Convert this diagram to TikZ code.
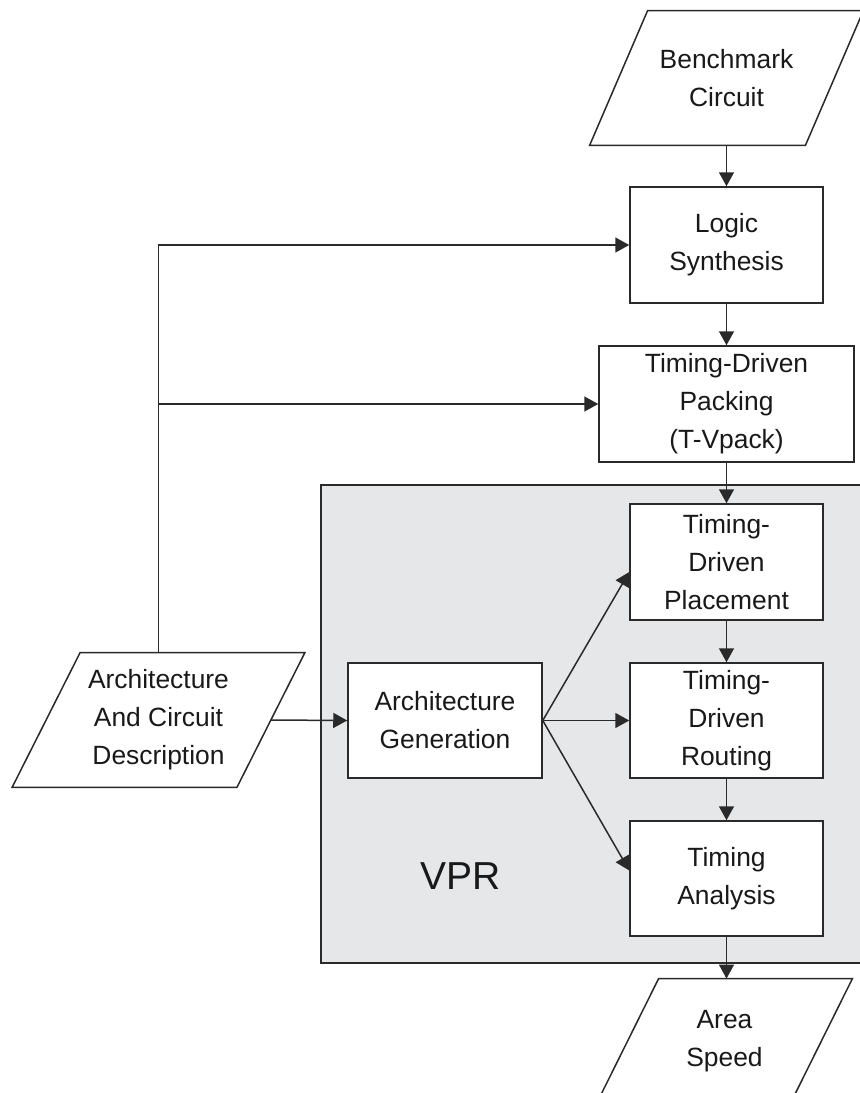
\documentclass[tikz,border=0pt]{standalone}
\usepackage{fontspec}
\setmainfont{Liberation Sans}
\usetikzlibrary{arrows.meta,calc}
\definecolor{vprgray}{HTML}{E6E7E9}
\definecolor{edgegray}{HTML}{2A2A2A}

% slanted input/output frame round a node: name, half slant
\newcommand{\ioframe}[2]{%
  \draw[draw=edgegray, line width=0.75pt]
    ($(#1.north west)+(#2,0)$) -- ($(#1.north east)+(#2,0)$) --
    ($(#1.south east)+(-#2,0)$) -- ($(#1.south west)+(-#2,0)$) -- cycle;}

\begin{document}
\begin{tikzpicture}[x=0.5pt,y=-0.5pt,
    every node/.style={font=\fontsize{13.2}{19}\selectfont, align=center, text=black!90},
    box/.style={shape=rectangle, draw=edgegray, fill=white, line width=0.75pt, inner sep=0pt},
    io/.style={shape=rectangle, inner sep=0pt},
    flow/.style={draw=edgegray, line width=0.75pt, -{Triangle[length=7pt,width=7.5pt]}}]
    \useasboundingbox (0,0) rectangle (860,1093);
    \clip (0,0) rectangle (860,1093);

    % VPR region
    \draw[draw=edgegray, fill=vprgray, line width=0.75pt] (321,485) rectangle (864,963);
    \node[font=\fontsize{19.5}{23}\selectfont] (vprlabel) at (461,876) {VPR};

    \node[io, minimum width=107.5pt, minimum height=67pt] (bench) at (726.5,78) {Benchmark\\Circuit};
    \node[box, minimum width=96.5pt, minimum height=58pt] (synth) at (726.5,245) {Logic\\Synthesis};
    \node[box, minimum width=127.5pt, minimum height=58pt] (pack) at (726.5,404) {Timing-Driven\\Packing\\(T-Vpack)};
    \node[box, minimum width=96.5pt, minimum height=58pt] (place) at (726.5,562) {Timing-\\Driven\\Placement};
    \node[box, minimum width=96.5pt, minimum height=57.5pt] (route) at (726.5,720.5) {Timing-\\Driven\\Routing};
    \node[box, minimum width=96.5pt, minimum height=57.5pt] (anal) at (726.5,878.5) {Timing\\Analysis};
    \node[box, minimum width=97pt, minimum height=57.5pt] (archgen) at (445,720.5) {Architecture\\Generation};
    \node[io, minimum width=112pt, minimum height=67pt] (desc) at (158.5,720) {Architecture\\And Circuit\\Description};
    \node[io, minimum width=96.5pt, minimum height=62pt] (result) at (724.5,1041) {Area\\Speed};

    \ioframe{bench}{29}
    \ioframe{desc}{34}
    \ioframe{result}{31}

    \path[flow] (bench) -- (synth);
    \path[flow] (synth) -- (pack);
    \path[flow] (pack) -- (place);
    \path[flow] (place) -- (route);
    \path[flow] (route) -- (anal);
    \path[flow] (anal.south) -- (anal.south |- result.north);

    \path[flow] (desc.north) -- (desc.north |- synth.west) -- (synth.west);
    \path[flow] (desc.north |- pack.west) -- (pack.west);
    \path[flow] (desc.east) -- (archgen.west);

    \path[flow] (archgen.east) -- ($(place.west)+(0,10)$);
    \path[flow] (archgen.east) -- (route.west);
    \path[flow] (archgen.east) -- ($(anal.west)+(0,-8)$);
\end{tikzpicture}
\end{document}
